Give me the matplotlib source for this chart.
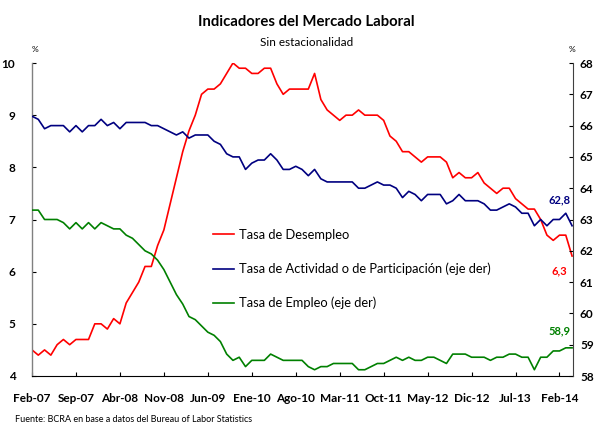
import matplotlib
matplotlib.use("Agg")
import matplotlib.pyplot as plt
from matplotlib.lines import Line2D

plt.rcParams['font.family'] = ['Lato', 'DejaVu Sans']

# ---------------- data ----------------
months = ["Feb-07", "Sep-07", "Abr-08", "Nov-08", "Jun-09", "Ene-10", "Ago-10",
          "Mar-11", "Oct-11", "May-12", "Dic-12", "Jul-13", "Feb-14"]

desempleo = [4.5, 4.4, 4.5, 4.4, 4.6, 4.7, 4.6, 4.7, 4.7, 4.7, 5.0,
             5.0, 4.9, 5.1, 5.0, 5.4, 5.6, 5.8, 6.1, 6.1, 6.5, 6.8, 7.3,
             7.8, 8.3, 8.7, 9.0, 9.4, 9.5, 9.5, 9.6, 9.8, 10.0, 9.9, 9.9,
             9.8, 9.8, 9.9, 9.9, 9.6, 9.4, 9.5, 9.5, 9.5, 9.5, 9.8, 9.3,
             9.1, 9.0, 8.9, 9.0, 9.0, 9.1, 9.0, 9.0, 9.0, 8.9, 8.6, 8.5,
             8.3, 8.3, 8.2, 8.1, 8.2, 8.2, 8.2, 8.1, 7.8, 7.9, 7.8, 7.8,
             7.9, 7.7, 7.6, 7.5, 7.6, 7.6, 7.4, 7.3, 7.2, 7.2, 7.0, 6.7,
             6.6, 6.7, 6.7, 6.3]

actividad = [66.3, 66.2, 65.9, 66.0, 66.0, 66.0, 65.8, 66.0, 65.8, 66.0, 66.0,
             66.2, 66.0, 66.1, 65.9, 66.1, 66.1, 66.1, 66.1, 66.0, 66.0, 65.9, 65.8,
             65.7, 65.8, 65.6, 65.7, 65.7, 65.7, 65.5, 65.4, 65.1, 65.0, 65.0, 64.6,
             64.8, 64.9, 64.9, 65.1, 64.9, 64.6, 64.6, 64.7, 64.6, 64.4, 64.6, 64.3,
             64.2, 64.2, 64.2, 64.2, 64.2, 64.0, 64.0, 64.1, 64.2, 64.1, 64.1, 64.0,
             63.7, 63.9, 63.8, 63.6, 63.8, 63.8, 63.8, 63.5, 63.6, 63.8, 63.6, 63.6,
             63.6, 63.5, 63.3, 63.3, 63.4, 63.5, 63.4, 63.2, 63.2, 62.8, 63.0, 62.8,
             63.0, 63.0, 63.2, 62.8]

empleo = [63.3, 63.3, 63.0, 63.0, 63.0, 62.9, 62.7, 62.9, 62.7, 62.9, 62.7,
          62.9, 62.8, 62.7, 62.7, 62.5, 62.4, 62.2, 62.0, 61.9, 61.7, 61.4, 61.0,
          60.6, 60.3, 59.9, 59.8, 59.6, 59.4, 59.3, 59.1, 58.7, 58.5, 58.6, 58.3,
          58.5, 58.5, 58.5, 58.7, 58.6, 58.5, 58.5, 58.5, 58.5, 58.3, 58.2, 58.3,
          58.3, 58.4, 58.4, 58.4, 58.4, 58.2, 58.2, 58.3, 58.4, 58.4, 58.5, 58.6,
          58.5, 58.6, 58.5, 58.5, 58.6, 58.6, 58.5, 58.4, 58.7, 58.7, 58.7, 58.6,
          58.6, 58.6, 58.5, 58.6, 58.6, 58.7, 58.7, 58.6, 58.6, 58.2, 58.6, 58.6,
          58.8, 58.8, 58.9, 58.9]

labels = ["Tasa de Desempleo",
          "Tasa de Actividad o de Participación (eje der)",
          "Tasa de Empleo (eje der)"]
ultimo = ["6,3", "62,8", "58,9"]

RED = "#FF0000"
BLUE = "#000080"
GREEN = "#008000"

# ---------------- figure ----------------
fig = plt.figure(figsize=(5.98, 4.24), dpi=100)
ax = fig.add_axes([32 / 598, 48 / 424, (573 - 32) / 598, (376 - 63) / 424])
ax2 = ax.twinx()

x = list(range(len(desempleo)))
ax.plot(x, desempleo, color=RED, lw=1.2)
ax2.plot(x, actividad, color=BLUE, lw=1.2)
ax2.plot(x, empleo, color=GREEN, lw=1.2)

ax.set_xlim(0, len(x) - 1 + 0.15)
ax.set_ylim(4, 10)
ax2.set_ylim(58, 68)
ax.set_yticks(range(4, 11))
ax2.set_yticks(range(58, 69))

ax.set_xticks(range(0, 7 * len(months), 7))
ax.set_xticklabels(months)

for a in (ax, ax2):
    a.spines['top'].set_visible(False)
    a.tick_params(direction='in', length=3, width=0.8)
ax.spines['left'].set_color('#808080')
ax.spines['left'].set_linewidth(1.0)
ax2.spines['right'].set_color('#404040')
ax2.spines['bottom'].set_visible(False)
ax2.spines['left'].set_visible(False)
ax.spines['right'].set_visible(False)

for lab in ax.get_yticklabels() + ax2.get_yticklabels() + ax.get_xticklabels():
    lab.set_fontweight('bold')
    lab.set_fontsize(8.5)
ax.tick_params(axis='y', pad=12)
ax2.tick_params(axis='y', pad=5)
ax.tick_params(axis='x', pad=12)

# percent marks
fig.text(35 / 598, 1 - 50 / 424, "%", fontsize=6, ha='center', va='center')
fig.text(572 / 598, 1 - 50 / 424, "%", fontsize=6, ha='center', va='center')

# titles
fig.text(306 / 598, 1 - 22 / 424, "Indicadores del Mercado Laboral",
         fontsize=10.7, fontweight='bold', ha='center', va='center')
fig.text(307 / 598, 1 - 42 / 424, "Sin estacionalidad",
         fontsize=8.5, ha='center', va='center')

# legend
handles = [Line2D([], [], color=c, lw=1.2) for c in (RED, BLUE, GREEN)]
fig.legend(handles, labels, loc='upper left',
           bbox_to_anchor=(213 / 598, 1 - 229 / 424),
           frameon=False, fontsize=9.3, handlelength=1.6, handletextpad=0.4,
           labelspacing=1.68, borderpad=0, borderaxespad=0)

# last-value labels
ax.annotate(ultimo[0], xy=(x[-1], desempleo[-1]), xytext=(-9, -11),
            textcoords='offset points', color=RED, fontsize=8,
            fontweight='bold', ha='center', va='center')
ax2.annotate(ultimo[1], xy=(x[-1], actividad[-1]), xytext=(-9, 19),
             textcoords='offset points', color=BLUE, fontsize=8,
             fontweight='bold', ha='center', va='center')
ax2.annotate(ultimo[2], xy=(x[-1], empleo[-1]), xytext=(-9, 12),
             textcoords='offset points', color=GREEN, fontsize=8,
             fontweight='bold', ha='center', va='center')

fig.text(15 / 598, 1 - 419 / 424,
         "Fuente: BCRA en base a datos del Bureau of Labor Statistics",
         fontsize=6.5, ha='left', va='center')

fig.savefig("out.png", dpi=100)
